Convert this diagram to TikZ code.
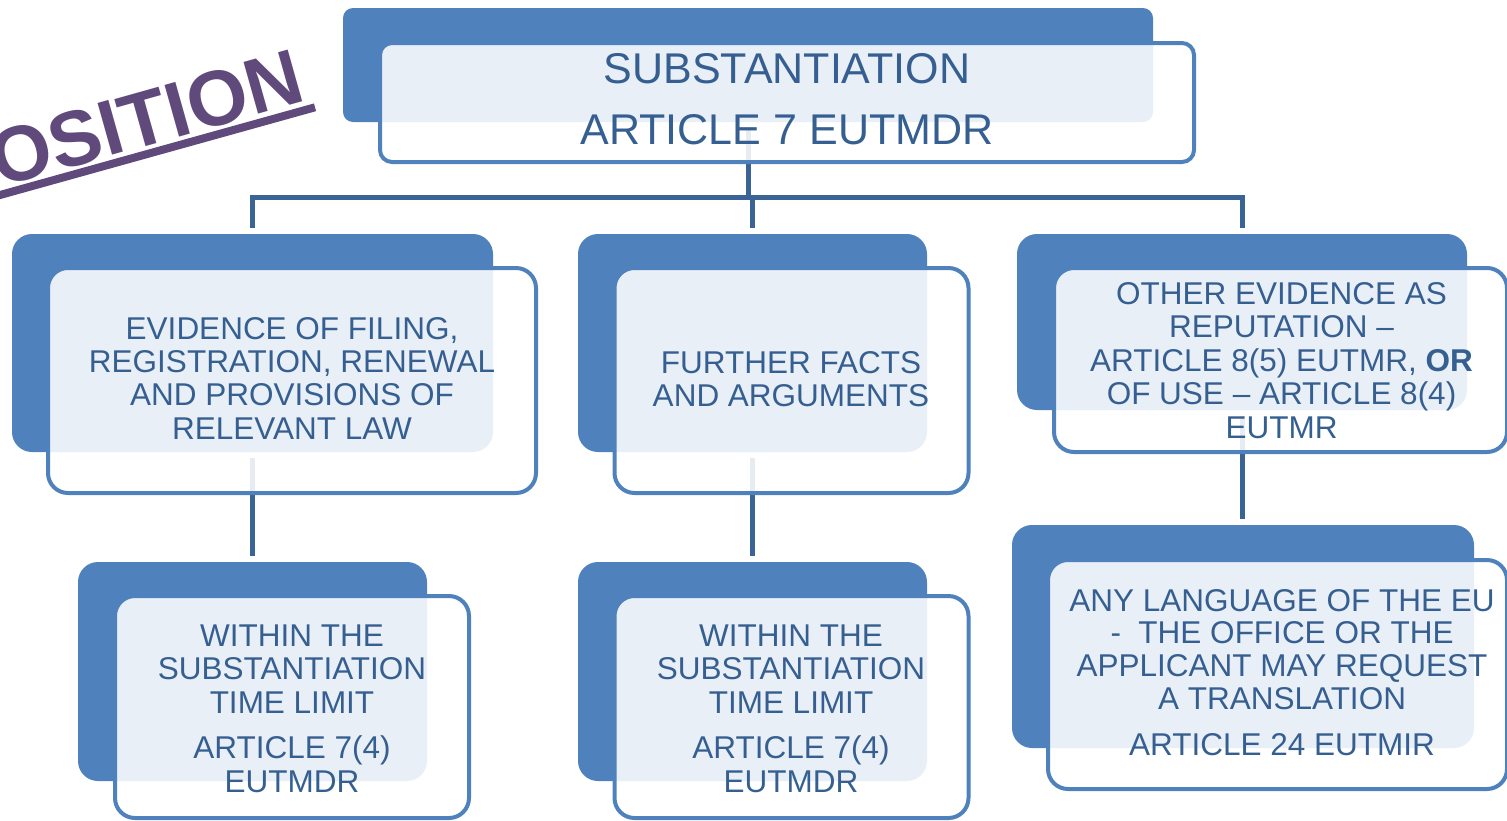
\documentclass[tikz,border=0pt]{standalone}
\usepackage{fontspec}
\setmainfont{Liberation Sans}
\definecolor{boxblue}{RGB}{79,129,189}
\definecolor{linkblue}{RGB}{58,99,150}
\definecolor{txtblue}{RGB}{54,95,145}
\definecolor{titlepurple}{RGB}{96,74,124}
\begin{document}
\begin{tikzpicture}[x=1pt,y=-1pt,
  backbox/.style={rectangle, fill=boxblue, rounded corners=20pt, inner sep=0pt, outer sep=0pt},
  frontbox/.style={rectangle, draw=boxblue, line width=4pt, fill=white, fill opacity=0.88,
                   rounded corners=20pt, inner sep=0pt, outer sep=0pt},
  conn/.style={draw=linkblue, line width=5pt},
  boxtext/.style={text=txtblue, align=center, inner sep=0pt, anchor=north,
                  font=\fontsize{31.5}{33.3}\selectfont},
]
\useasboundingbox (0,0) rectangle (1507,820);
\clip (0,0) rectangle (1507,820);

% solid back panels
\node[backbox, rounded corners=10pt, minimum width=810pt, minimum height=114pt] (topB) at (748,65) {};
\node[backbox, minimum width=481pt, minimum height=218pt] (leftB) at (252.5,343) {};
\node[backbox, minimum width=349pt, minimum height=218pt] (midB) at (752.5,343) {};
\node[backbox, minimum width=450pt, minimum height=176pt] (rightB) at (1242,322) {};
\node[backbox, minimum width=349pt, minimum height=219pt] (leftsubB) at (252.5,671.5) {};
\node[backbox, minimum width=349pt, minimum height=219pt] (midsubB) at (752.5,671.5) {};
\node[backbox, minimum width=462pt, minimum height=223pt] (rightsubB) at (1243,636.5) {};

% tree connectors
\coordinate (bus) at (748,197);
\draw[conn, shorten <=6pt] (topB.south) -- (bus);
\draw[conn, shorten <=6pt, shorten >=6pt] (leftB.north) |- (bus) -| (rightB.north);
\draw[conn, shorten <=6pt] (midB.north) -- (midB.north |- bus);
\draw[conn, shorten <=6pt, shorten >=6pt] (leftB.south) -- (leftsubB.north);
\draw[conn, shorten <=6pt, shorten >=6pt] (midB.south) -- (midsubB.north);
\draw[conn, shorten <=6pt, shorten >=6pt] (rightB.south) -- (rightB.south |- rightsubB.north);

% translucent front panels
\node[frontbox, rounded corners=12pt, minimum width=814pt, minimum height=119pt] (topF) at (787,102.5) {};
\node[frontbox, minimum width=488pt, minimum height=225pt] (leftF) at (292,380.5) {};
\node[frontbox, minimum width=354pt, minimum height=225pt] (midF) at (791.5,380.5) {};
\node[frontbox, minimum width=453pt, minimum height=184pt] (rightF) at (1280.5,360) {};
\node[frontbox, minimum width=354pt, minimum height=222pt] (leftsubF) at (292,707) {};
\node[frontbox, minimum width=354pt, minimum height=222pt] (midsubF) at (791.5,707) {};
\node[frontbox, minimum width=459pt, minimum height=229pt] (rightsubF) at (1277.5,674.5) {};

% panel texts
\node[boxtext, font=\fontsize{43}{61.5}\selectfont] (topT) at (787,53)
  {SUBSTANTIATION\\ARTICLE 7 EUTMDR};
\node[boxtext] (leftT) at (292,317)
  {EVIDENCE OF FILING,\\REGISTRATION, RENEWAL\\AND PROVISIONS OF\\RELEVANT LAW};
\node[boxtext] (midT) at (791,351)
  {FURTHER FACTS\\AND ARGUMENTS};
\node[boxtext, font=\fontsize{31.5}{33.5}\selectfont] (rightT) at (1281.5,282)
  {OTHER EVIDENCE AS\\REPUTATION –\\ARTICLE 8(5) EUTMR, \textbf{OR}\\OF USE – ARTICLE 8(4)\\EUTMR};
\node[boxtext, font=\fontsize{31.5}{33.5}\selectfont] (leftsubT) at (292,624.5)
  {WITHIN THE\\SUBSTANTIATION\\TIME LIMIT\\[12pt]ARTICLE 7(4)\\EUTMDR};
\node[boxtext, font=\fontsize{31.5}{33.5}\selectfont] (midsubT) at (791,624.5)
  {WITHIN THE\\SUBSTANTIATION\\TIME LIMIT\\[12pt]ARTICLE 7(4)\\EUTMDR};
\node[boxtext, font=\fontsize{31.5}{32.7}\selectfont] (rightsubT) at (1282,589)
  {ANY LANGUAGE OF THE EU\\- \ THE OFFICE OR THE\\APPLICANT MAY REQUEST\\A TRANSLATION\\[13.5pt]ARTICLE 24 EUTMIR};

% slanted heading in the corner
\node[font=\fontsize{78}{78}\selectfont\bfseries, text=titlepurple, rotate=15.7,
      anchor=base east, inner sep=0pt] (stamp) at (308,100.6) {POSITION};
\draw[titlepurple, line width=8pt] (-10,197.8) -- (315,107.3);
\end{tikzpicture}
\end{document}
